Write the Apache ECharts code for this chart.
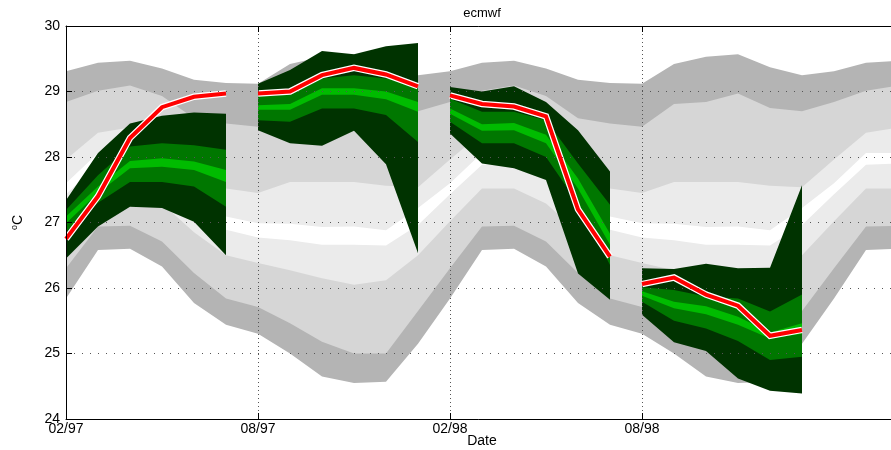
<!DOCTYPE html>
<html>
<head>
<meta charset="utf-8">
<script src="https://cdn.jsdelivr.net/npm/echarts@6/dist/echarts.min.js"></script>
<style>
  html, body { margin: 0; padding: 0; background: #ffffff; }
  #chart { width: 891px; height: 450px; }
</style>
</head>
<body>
<div id="chart"></div>
<script>
// Time axis: months counted from Feb 1997 (month 0)
const months = [0, 1, 2, 3, 4, 5, 6, 7, 8, 9, 10, 11, 12, 13, 14, 15, 16, 17, 18, 19, 20, 21, 22, 23, 24, 25, 26];
const tickMonths = [0, 6, 12, 18];
const tickLabels = ['02/97', '08/97', '02/98', '08/98'];
const gridTemps = [25, 26, 27, 28, 29];

// Climatology envelopes (deg C), outermost boundary first
const climTop1 = [29.31, 29.44, 29.47, 29.35, 29.18, 29.13, 29.12, 29.42, 29.53, 29.57, 29.37, 29.25, 29.31, 29.44, 29.47, 29.35, 29.18, 29.13, 29.12, 29.42, 29.53, 29.57, 29.37, 29.25, 29.31, 29.44, 29.47];
const climTop2 = [28.84, 29.01, 29.09, 28.93, 28.59, 28.51, 28.46, 28.81, 28.84, 28.97, 28.75, 28.70, 28.84, 29.01, 29.09, 28.93, 28.59, 28.51, 28.46, 28.81, 28.84, 28.97, 28.75, 28.70, 28.84, 29.01, 29.09];
const climTop3 = [27.96, 28.37, 28.45, 28.15, 27.80, 27.52, 27.45, 27.62, 27.62, 27.62, 27.56, 27.54, 27.96, 28.37, 28.45, 28.15, 27.80, 27.52, 27.45, 27.62, 27.62, 27.62, 27.56, 27.54, 27.96, 28.37, 28.45];
const climTop4 = [27.60, 28.06, 28.06, 27.90, 27.50, 27.09, 26.99, 26.98, 26.93, 26.94, 26.88, 27.22, 27.60, 28.06, 28.06, 27.90, 27.50, 27.09, 26.99, 26.98, 26.93, 26.94, 26.88, 27.22, 27.60, 28.06, 28.06];
const climBot4 = [27.43, 27.88, 27.90, 27.70, 27.30, 26.89, 26.77, 26.73, 26.66, 26.66, 26.65, 26.96, 27.43, 27.88, 27.90, 27.70, 27.30, 26.89, 26.77, 26.73, 26.66, 26.66, 26.65, 26.96, 27.43, 27.88, 27.90];
const climBot3 = [27.02, 27.52, 27.52, 27.29, 26.85, 26.50, 26.38, 26.27, 26.15, 26.05, 26.12, 26.50, 27.02, 27.52, 27.52, 27.29, 26.85, 26.50, 26.38, 26.27, 26.15, 26.05, 26.12, 26.50, 27.02, 27.52, 27.52];
const climBot2 = [26.30, 26.94, 26.95, 26.71, 26.23, 25.84, 25.71, 25.46, 25.18, 25.00, 25.00, 25.65, 26.30, 26.94, 26.95, 26.71, 26.23, 25.84, 25.71, 25.46, 25.18, 25.00, 25.00, 25.65, 26.30, 26.94, 26.95];
const climBot1 = [25.84, 26.58, 26.60, 26.33, 25.77, 25.44, 25.30, 25.00, 24.65, 24.55, 24.57, 25.15, 25.84, 26.58, 26.60, 26.33, 25.77, 25.44, 25.30, 25.00, 24.65, 24.55, 24.57, 25.15, 25.84, 26.58, 26.60];

// Forecast plumes: start month and monthly envelope boundaries (6 lead months each)
const plumeStart = [0, 6, 12, 18];
const plumeTop1 = [
  [27.34, 28.06, 28.51, 28.63, 28.68, 28.66],
  [29.12, 29.33, 29.62, 29.57, 29.69, 29.74],
  [29.07, 29.00, 29.08, 28.84, 28.41, 27.78],
  [26.30, 26.29, 26.37, 26.30, 26.31, 27.57]
];
const plumeTop2 = [
  [27.19, 27.72, 28.16, 28.21, 28.18, 28.11],
  [28.93, 28.95, 29.20, 29.25, 29.20, 29.13],
  [28.89, 28.69, 28.69, 28.56, 27.90, 27.27],
  [26.01, 25.97, 25.87, 25.84, 25.64, 25.90]
];
const plumeTop3 = [
  [27.09, 27.55, 27.94, 27.98, 27.93, 27.80],
  [28.79, 28.81, 29.05, 29.05, 29.00, 28.84],
  [28.74, 28.50, 28.52, 28.34, 27.67, 26.83],
  [25.95, 25.79, 25.72, 25.56, 25.32, 25.46]
];
const plumeBot3 = [
  [26.99, 27.45, 27.83, 27.85, 27.80, 27.62],
  [28.72, 28.72, 28.95, 28.95, 28.88, 28.69],
  [28.66, 28.40, 28.41, 28.21, 27.52, 26.66],
  [25.88, 25.69, 25.60, 25.44, 25.23, 25.30]
];
const plumeBot2 = [
  [26.86, 27.30, 27.62, 27.62, 27.55, 27.24],
  [28.56, 28.54, 28.74, 28.74, 28.64, 28.23],
  [28.54, 28.21, 28.21, 28.00, 27.29, 26.35],
  [25.79, 25.50, 25.38, 25.19, 24.90, 24.95]
];
const plumeBot1 = [
  [26.45, 26.94, 27.24, 27.22, 27.01, 26.50],
  [28.41, 28.21, 28.17, 28.40, 27.89, 26.53],
  [28.36, 27.90, 27.83, 27.65, 26.22, 25.82],
  [25.59, 25.17, 25.04, 24.62, 24.43, 24.39]
];
// Verifying analysis over each forecast period
const verifying = [
  [26.75, 27.40, 28.29, 28.76, 28.92, 28.97],
  [28.97, 29.00, 29.25, 29.36, 29.26, 29.08],
  [28.94, 28.81, 28.77, 28.62, 27.20, 26.48],
  [26.06, 26.16, 25.90, 25.73, 25.27, 25.36]
];

const FONT = '"Liberation Sans", Arial, Helvetica, sans-serif';
const greyFills = ['#b4b4b4', '#d6d6d6', '#ebebeb', '#ffffff'];
const greenFills = ['#003300', '#007700', '#00bb00'];

const climBands = [
  [climTop1, climBot1],
  [climTop2, climBot2],
  [climTop3, climBot3],
  [climTop4, climBot4]
];
const plumeLevels = [
  [plumeTop1, plumeBot1],
  [plumeTop2, plumeBot2],
  [plumeTop3, plumeBot3]
];

function polygonPoints(api, xs, upper, lower) {
  const pts = [];
  for (let i = 0; i < xs.length; i++) pts.push(api.coord([xs[i], upper[i]]));
  for (let i = xs.length - 1; i >= 0; i--) pts.push(api.coord([xs[i], lower[i]]));
  return pts;
}

// one data item per (plume, level) pair, drawn outer level first
const plumeItems = [];
plumeStart.forEach((s, p) => {
  plumeLevels.forEach((lv, l) => plumeItems.push([p, l]));
});

const series = [
  {
    // dotted grid lines under everything
    type: 'line',
    data: [],
    z: 1,
    silent: true,
    markLine: {
      silent: true,
      symbol: ['none', 'none'],
      animation: false,
      label: { show: false },
      lineStyle: { color: '#555', width: 1, type: [1, 7] },
      data: gridTemps.map(v => ({ yAxis: v }))
        .concat(tickMonths.filter(m => m > 0).map(m => ({ xAxis: m, lineStyle: { color: '#555', width: 1, type: [1, 3] } })))
    }
  },
  {
    type: 'custom',
    z: 2,
    silent: true,
    data: climBands.map((b, i) => [i]),
    renderItem: function (params, api) {
      const b = climBands[params.dataIndex];
      return {
        type: 'polygon',
        shape: { points: polygonPoints(api, months, b[0], b[1]) },
        style: { fill: greyFills[params.dataIndex], stroke: null }
      };
    }
  },
  {
    type: 'custom',
    z: 3,
    silent: true,
    data: plumeItems,
    renderItem: function (params, api) {
      const [p, l] = plumeItems[params.dataIndex];
      const xs = plumeTop1[p].map((v, i) => plumeStart[p] + i);
      return {
        type: 'polygon',
        shape: { points: polygonPoints(api, xs, plumeLevels[l][0][p], plumeLevels[l][1][p]) },
        style: { fill: greenFills[l], stroke: null }
      };
    }
  }
];

verifying.forEach((vals, p) => {
  const pts = vals.map((v, i) => [plumeStart[p] + i, v]);
  series.push({
    type: 'line', data: pts, z: 4, symbol: 'none', silent: true,
    lineStyle: { color: '#ffffff', width: 6.5, join: 'miter' }
  });
  series.push({
    type: 'line', data: pts, z: 5, symbol: 'none', silent: true,
    lineStyle: { color: '#ff0000', width: 4, join: 'miter' }
  });
});

const chart = echarts.init(document.getElementById('chart'), null, { renderer: 'canvas' });
chart.setOption({
  animation: false,
  backgroundColor: '#ffffff',
  grid: { left: 66, top: 26, width: 832, height: 393, containLabel: false, outerBoundsMode: 'none' },
  graphic: [
    {
      type: 'text', x: 482, y: 13,
      style: { text: 'ecmwf', align: 'center', verticalAlign: 'middle', fill: '#000', font: '13px ' + FONT }
    },
    {
      type: 'text', x: 482, y: 441,
      style: { text: 'Date', align: 'center', verticalAlign: 'middle', fill: '#000', font: '14px ' + FONT }
    }
  ],
  xAxis: [
    {
      type: 'value', min: 0, max: 26, position: 'bottom', z: 10,
      axisLine: { show: true, lineStyle: { color: '#000', width: 1 } },
      axisTick: { show: true, inside: true, length: 6, customValues: tickMonths, lineStyle: { color: '#000' } },
      axisLabel: {
        customValues: tickMonths, color: '#000', fontSize: 14, fontFamily: FONT, margin: 3,
        formatter: v => tickLabels[tickMonths.indexOf(v)] || ''
      },
      splitLine: { show: false }
    },
    {
      type: 'value', min: 0, max: 26, position: 'top', z: 10,
      axisLine: { show: true, lineStyle: { color: '#000', width: 1 } },
      axisTick: { show: true, inside: true, length: 6, customValues: tickMonths, lineStyle: { color: '#000' } },
      axisLabel: { show: false },
      splitLine: { show: false }
    }
  ],
  yAxis: {
    type: 'value', min: 24, max: 30, interval: 1, z: 10,
    axisLine: { show: true, lineStyle: { color: '#000', width: 1 } },
    axisTick: { show: true, inside: true, length: 6, lineStyle: { color: '#000' } },
    axisLabel: { color: '#000', fontSize: 14, fontFamily: FONT, margin: 6 },
    splitLine: { show: false },
    name: '{sup|o}C', nameLocation: 'middle', nameRotate: 90, nameGap: 40,
    nameTextStyle: {
      color: '#000', fontSize: 14, fontFamily: FONT,
      rich: { sup: { fontSize: 9, fontFamily: FONT, color: '#000', padding: [0, 0, 7, 0] } }
    }
  },
  series: series
});
</script>
</body>
</html>
